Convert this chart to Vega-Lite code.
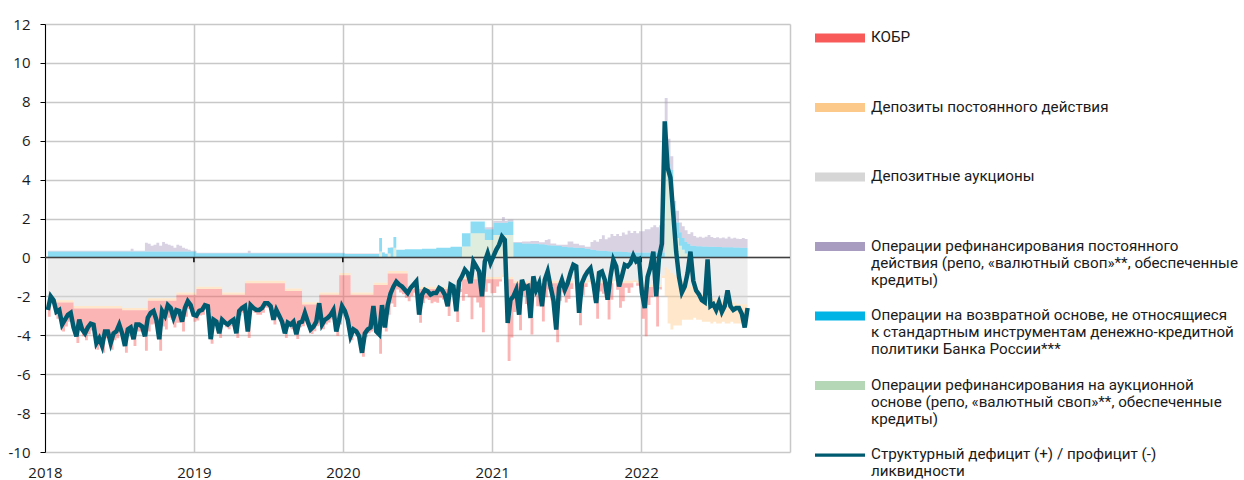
{
"$schema": "https://vega.github.io/schema/vega-lite/v6.json",
"width": 745,
"height": 428,
"autosize": {"type": "none"},
"padding": {"left": 45, "top": 24, "right": 454, "bottom": 28},
"config": {"view": {"stroke": null}, "font": "Open Sans", "axis": {"labelOverlap": false}, "axisY": {"labelOverlap": false, "tickCount": 12}},
"datasets": {
"w": [
{"d":"2018-01-08","n1":-2.2,"n2":-0.12,"n3":-0.73,"p1":0,"p2":0.3,"p3":0.05,"s":-2.7},
{"d":"2018-01-15","n1":-2.2,"n2":-0.12,"n3":-0.03,"p1":0,"p2":0.3,"p3":0.05,"s":-2.0},
{"d":"2018-01-22","n1":-2.2,"n2":-0.12,"n3":-0.23,"p1":0,"p2":0.3,"p3":0.05,"s":-2.2},
{"d":"2018-01-29","n1":-2.2,"n2":-0.12,"n3":-0.83,"p1":0,"p2":0.3,"p3":0.05,"s":-2.8},
{"d":"2018-02-05","n1":-2.2,"n2":-0.12,"n3":-0.73,"p1":0,"p2":0.3,"p3":0.05,"s":-2.7},
{"d":"2018-02-12","n1":-2.2,"n2":-0.12,"n3":-1.48,"p1":0,"p2":0.3,"p3":0.05,"s":-3.45},
{"d":"2018-02-19","n1":-2.2,"n2":-0.12,"n3":-1.23,"p1":0,"p2":0.3,"p3":0.05,"s":-3.2},
{"d":"2018-02-26","n1":-2.2,"n2":-0.12,"n3":-0.98,"p1":0,"p2":0.3,"p3":0.05,"s":-2.95},
{"d":"2018-03-05","n1":-2.2,"n2":-0.12,"n3":-0.88,"p1":0,"p2":0.3,"p3":0.05,"s":-2.85},
{"d":"2018-03-12","n1":-2.5,"n2":-0.12,"n3":-1.33,"p1":0,"p2":0.3,"p3":0.05,"s":-3.6},
{"d":"2018-03-19","n1":-2.5,"n2":-0.12,"n3":-1.78,"p1":0,"p2":0.3,"p3":0.05,"s":-4.05},
{"d":"2018-03-26","n1":-2.5,"n2":-0.12,"n3":-0.93,"p1":0,"p2":0.3,"p3":0.05,"s":-3.2},
{"d":"2018-04-02","n1":-2.5,"n2":-0.12,"n3":-1.43,"p1":0,"p2":0.3,"p3":0.05,"s":-3.7},
{"d":"2018-04-09","n1":-2.5,"n2":-0.12,"n3":-1.63,"p1":0,"p2":0.3,"p3":0.05,"s":-3.9},
{"d":"2018-04-16","n1":-2.5,"n2":-0.12,"n3":-1.33,"p1":0,"p2":0.3,"p3":0.05,"s":-3.6},
{"d":"2018-04-23","n1":-2.5,"n2":-0.12,"n3":-1.13,"p1":0,"p2":0.3,"p3":0.05,"s":-3.4},
{"d":"2018-04-30","n1":-2.5,"n2":-0.12,"n3":-1.18,"p1":0,"p2":0.3,"p3":0.05,"s":-3.45},
{"d":"2018-05-07","n1":-2.5,"n2":-0.12,"n3":-2.13,"p1":0,"p2":0.3,"p3":0.05,"s":-4.4},
{"d":"2018-05-14","n1":-2.5,"n2":-0.12,"n3":-1.88,"p1":0,"p2":0.3,"p3":0.05,"s":-4.15},
{"d":"2018-05-21","n1":-2.5,"n2":-0.12,"n3":-2.28,"p1":0,"p2":0.3,"p3":0.05,"s":-4.55},
{"d":"2018-05-28","n1":-2.5,"n2":-0.12,"n3":-1.53,"p1":0,"p2":0.3,"p3":0.05,"s":-3.8},
{"d":"2018-06-04","n1":-2.5,"n2":-0.12,"n3":-1.53,"p1":0,"p2":0.3,"p3":0.05,"s":-3.8},
{"d":"2018-06-11","n1":-2.5,"n2":-0.12,"n3":-2.13,"p1":0,"p2":0.3,"p3":0.05,"s":-4.4},
{"d":"2018-06-18","n1":-2.5,"n2":-0.12,"n3":-1.63,"p1":0,"p2":0.3,"p3":0.05,"s":-3.9},
{"d":"2018-06-25","n1":-2.5,"n2":-0.12,"n3":-1.53,"p1":0,"p2":0.3,"p3":0.05,"s":-3.8},
{"d":"2018-07-02","n1":-2.5,"n2":-0.12,"n3":-1.18,"p1":0,"p2":0.3,"p3":0.05,"s":-3.45},
{"d":"2018-07-09","n1":-2.6,"n2":-0.12,"n3":-1.53,"p1":0,"p2":0.3,"p3":0.05,"s":-3.9},
{"d":"2018-07-16","n1":-2.6,"n2":-0.12,"n3":-2.18,"p1":0,"p2":0.3,"p3":0.05,"s":-4.55},
{"d":"2018-07-23","n1":-2.6,"n2":-0.12,"n3":-1.33,"p1":0,"p2":0.3,"p3":0.05,"s":-3.7},
{"d":"2018-07-30","n1":-2.6,"n2":-0.12,"n3":-1.33,"p1":0,"p2":0.3,"p3":0.15,"s":-3.6},
{"d":"2018-08-06","n1":-2.6,"n2":-0.12,"n3":-1.83,"p1":0,"p2":0.3,"p3":0.05,"s":-4.2},
{"d":"2018-08-13","n1":-2.6,"n2":-0.12,"n3":-1.08,"p1":0,"p2":0.3,"p3":0.05,"s":-3.45},
{"d":"2018-08-20","n1":-2.6,"n2":-0.12,"n3":-1.08,"p1":0,"p2":0.3,"p3":0.05,"s":-3.45},
{"d":"2018-08-27","n1":-2.6,"n2":-0.12,"n3":-1.18,"p1":0,"p2":0.3,"p3":0.05,"s":-3.55},
{"d":"2018-09-03","n1":-2.6,"n2":-0.12,"n3":-2.08,"p1":0,"p2":0.3,"p3":0.45,"s":-4.05},
{"d":"2018-09-10","n1":-2.1,"n2":-0.12,"n3":-1.58,"p1":0,"p2":0.3,"p3":0.4,"s":-3.1},
{"d":"2018-09-17","n1":-2.1,"n2":-0.12,"n3":-1.23,"p1":0,"p2":0.3,"p3":0.3,"s":-2.85},
{"d":"2018-09-24","n1":-2.1,"n2":-0.12,"n3":-1.18,"p1":0,"p2":0.3,"p3":0.35,"s":-2.75},
{"d":"2018-10-01","n1":-2.1,"n2":-0.12,"n3":-1.73,"p1":0,"p2":0.3,"p3":0.45,"s":-3.2},
{"d":"2018-10-08","n1":-2.1,"n2":-0.12,"n3":-2.58,"p1":0,"p2":0.3,"p3":0.3,"s":-4.2},
{"d":"2018-10-15","n1":-2.1,"n2":-0.12,"n3":-1.33,"p1":0,"p2":0.3,"p3":0.5,"s":-2.75},
{"d":"2018-10-22","n1":-2.1,"n2":-0.12,"n3":-1.48,"p1":0,"p2":0.3,"p3":0.4,"s":-3.0},
{"d":"2018-10-29","n1":-2.1,"n2":-0.12,"n3":-0.88,"p1":0,"p2":0.3,"p3":0.35,"s":-2.45},
{"d":"2018-11-05","n1":-2.1,"n2":-0.12,"n3":-0.98,"p1":0,"p2":0.3,"p3":0.3,"s":-2.6},
{"d":"2018-11-12","n1":-2.1,"n2":-0.12,"n3":-1.38,"p1":0,"p2":0.3,"p3":0.2,"s":-3.1},
{"d":"2018-11-19","n1":-1.8,"n2":-0.12,"n3":-1.43,"p1":0,"p2":0.3,"p3":0.35,"s":-2.7},
{"d":"2018-11-26","n1":-1.8,"n2":-0.12,"n3":-1.43,"p1":0,"p2":0.3,"p3":0.3,"s":-2.75},
{"d":"2018-12-03","n1":-1.8,"n2":-0.12,"n3":-1.88,"p1":0,"p2":0.3,"p3":0.2,"s":-3.3},
{"d":"2018-12-10","n1":-1.8,"n2":-0.12,"n3":-1.13,"p1":0,"p2":0.3,"p3":0.15,"s":-2.6},
{"d":"2018-12-17","n1":-1.8,"n2":-0.12,"n3":-0.73,"p1":0,"p2":0.3,"p3":0.1,"s":-2.25},
{"d":"2018-12-24","n1":-1.8,"n2":-0.12,"n3":-0.88,"p1":0,"p2":0.3,"p3":0.05,"s":-2.45},
{"d":"2018-12-31","n1":-1.8,"n2":-0.12,"n3":-1.38,"p1":0,"p2":0.3,"p3":0.05,"s":-2.95},
{"d":"2019-01-07","n1":-1.5,"n2":-0.12,"n3":-1.62,"p1":0,"p2":0.22,"p3":0.02,"s":-3.0},
{"d":"2019-01-14","n1":-1.5,"n2":-0.12,"n3":-1.37,"p1":0,"p2":0.22,"p3":0.02,"s":-2.75},
{"d":"2019-01-21","n1":-1.5,"n2":-0.12,"n3":-1.32,"p1":0,"p2":0.22,"p3":0.02,"s":-2.7},
{"d":"2019-01-28","n1":-1.5,"n2":-0.12,"n3":-1.07,"p1":0,"p2":0.22,"p3":0.02,"s":-2.45},
{"d":"2019-02-04","n1":-1.5,"n2":-0.12,"n3":-1.12,"p1":0,"p2":0.22,"p3":0.02,"s":-2.5},
{"d":"2019-02-11","n1":-1.5,"n2":-0.12,"n3":-2.82,"p1":0,"p2":0.22,"p3":0.02,"s":-4.2},
{"d":"2019-02-18","n1":-1.5,"n2":-0.12,"n3":-1.82,"p1":0,"p2":0.22,"p3":0.02,"s":-3.2},
{"d":"2019-02-25","n1":-1.5,"n2":-0.12,"n3":-1.92,"p1":0,"p2":0.22,"p3":0.02,"s":-3.3},
{"d":"2019-03-04","n1":-1.5,"n2":-0.12,"n3":-2.52,"p1":0,"p2":0.22,"p3":0.02,"s":-3.9},
{"d":"2019-03-11","n1":-1.8,"n2":-0.12,"n3":-1.52,"p1":0,"p2":0.22,"p3":0.02,"s":-3.2},
{"d":"2019-03-18","n1":-1.8,"n2":-0.12,"n3":-1.67,"p1":0,"p2":0.22,"p3":0.02,"s":-3.35},
{"d":"2019-03-25","n1":-1.8,"n2":-0.12,"n3":-1.77,"p1":0,"p2":0.22,"p3":0.02,"s":-3.45},
{"d":"2019-04-01","n1":-1.8,"n2":-0.12,"n3":-1.62,"p1":0,"p2":0.22,"p3":0.02,"s":-3.3},
{"d":"2019-04-08","n1":-1.8,"n2":-0.12,"n3":-1.52,"p1":0,"p2":0.22,"p3":0.02,"s":-3.2},
{"d":"2019-04-15","n1":-1.8,"n2":-0.12,"n3":-2.22,"p1":0,"p2":0.22,"p3":0.02,"s":-3.9},
{"d":"2019-04-22","n1":-1.8,"n2":-0.12,"n3":-1.07,"p1":0,"p2":0.22,"p3":0.02,"s":-2.75},
{"d":"2019-04-29","n1":-1.8,"n2":-0.12,"n3":-0.92,"p1":0,"p2":0.22,"p3":0.02,"s":-2.6},
{"d":"2019-05-06","n1":-1.2,"n2":-0.12,"n3":-1.42,"p1":0,"p2":0.22,"p3":0.02,"s":-2.5},
{"d":"2019-05-13","n1":-1.2,"n2":-0.12,"n3":-2.82,"p1":0,"p2":0.22,"p3":0.12,"s":-3.8},
{"d":"2019-05-20","n1":-1.2,"n2":-0.12,"n3":-1.37,"p1":0,"p2":0.22,"p3":0.02,"s":-2.45},
{"d":"2019-05-27","n1":-1.2,"n2":-0.12,"n3":-1.52,"p1":0,"p2":0.22,"p3":0.02,"s":-2.6},
{"d":"2019-06-03","n1":-1.2,"n2":-0.12,"n3":-1.62,"p1":0,"p2":0.22,"p3":0.02,"s":-2.7},
{"d":"2019-06-10","n1":-1.2,"n2":-0.12,"n3":-1.62,"p1":0,"p2":0.22,"p3":0.02,"s":-2.7},
{"d":"2019-06-17","n1":-1.2,"n2":-0.12,"n3":-1.52,"p1":0,"p2":0.22,"p3":0.02,"s":-2.6},
{"d":"2019-06-24","n1":-1.2,"n2":-0.12,"n3":-1.27,"p1":0,"p2":0.22,"p3":0.02,"s":-2.35},
{"d":"2019-07-01","n1":-1.2,"n2":-0.12,"n3":-1.27,"p1":0,"p2":0.22,"p3":0.02,"s":-2.35},
{"d":"2019-07-08","n1":-1.2,"n2":-0.12,"n3":-1.42,"p1":0,"p2":0.22,"p3":0.02,"s":-2.5},
{"d":"2019-07-15","n1":-1.2,"n2":-0.12,"n3":-2.12,"p1":0,"p2":0.22,"p3":0.02,"s":-3.2},
{"d":"2019-07-22","n1":-1.2,"n2":-0.12,"n3":-1.62,"p1":0,"p2":0.22,"p3":0.02,"s":-2.7},
{"d":"2019-07-29","n1":-1.2,"n2":-0.12,"n3":-1.92,"p1":0,"p2":0.22,"p3":0.02,"s":-3.0},
{"d":"2019-08-05","n1":-1.2,"n2":-0.12,"n3":-2.22,"p1":0,"p2":0.22,"p3":0.02,"s":-3.3},
{"d":"2019-08-12","n1":-1.6,"n2":-0.12,"n3":-2.42,"p1":0,"p2":0.22,"p3":0.02,"s":-3.9},
{"d":"2019-08-19","n1":-1.6,"n2":-0.12,"n3":-1.87,"p1":0,"p2":0.22,"p3":0.02,"s":-3.35},
{"d":"2019-08-26","n1":-1.6,"n2":-0.12,"n3":-1.97,"p1":0,"p2":0.22,"p3":0.02,"s":-3.45},
{"d":"2019-09-02","n1":-1.6,"n2":-0.12,"n3":-1.82,"p1":0,"p2":0.22,"p3":0.02,"s":-3.3},
{"d":"2019-09-09","n1":-1.6,"n2":-0.12,"n3":-2.47,"p1":0,"p2":0.22,"p3":0.02,"s":-3.95},
{"d":"2019-09-16","n1":-1.6,"n2":-0.12,"n3":-1.87,"p1":0,"p2":0.22,"p3":0.02,"s":-3.35},
{"d":"2019-09-23","n1":-2.3,"n2":-0.12,"n3":-1.12,"p1":0,"p2":0.22,"p3":0.02,"s":-3.3},
{"d":"2019-09-30","n1":-2.3,"n2":-0.12,"n3":-0.67,"p1":0,"p2":0.22,"p3":0.02,"s":-2.85},
{"d":"2019-10-07","n1":-2.3,"n2":-0.12,"n3":-1.12,"p1":0,"p2":0.22,"p3":0.02,"s":-3.3},
{"d":"2019-10-14","n1":-2.3,"n2":-0.12,"n3":-1.52,"p1":0,"p2":0.22,"p3":0.02,"s":-3.7},
{"d":"2019-10-21","n1":-2.3,"n2":-0.12,"n3":-1.37,"p1":0,"p2":0.22,"p3":0.02,"s":-3.55},
{"d":"2019-10-28","n1":-2.3,"n2":-0.12,"n3":-1.12,"p1":0,"p2":0.22,"p3":0.02,"s":-3.3},
{"d":"2019-11-04","n1":-1.8,"n2":-0.12,"n3":-0.67,"p1":0,"p2":0.22,"p3":0.02,"s":-2.35},
{"d":"2019-11-11","n1":-1.8,"n2":-0.12,"n3":-1.77,"p1":0,"p2":0.22,"p3":0.02,"s":-3.45},
{"d":"2019-11-18","n1":-1.8,"n2":-0.12,"n3":-1.52,"p1":0,"p2":0.22,"p3":0.02,"s":-3.2},
{"d":"2019-11-25","n1":-1.8,"n2":-0.12,"n3":-1.42,"p1":0,"p2":0.22,"p3":0.02,"s":-3.1},
{"d":"2019-12-02","n1":-1.8,"n2":-0.12,"n3":-1.27,"p1":0,"p2":0.22,"p3":0.02,"s":-2.95},
{"d":"2019-12-09","n1":-1.8,"n2":-0.12,"n3":-1.02,"p1":0,"p2":0.22,"p3":0.02,"s":-2.7},
{"d":"2019-12-16","n1":-1.8,"n2":-0.12,"n3":-2.12,"p1":0,"p2":0.22,"p3":0.02,"s":-3.8},
{"d":"2019-12-23","n1":-0.8,"n2":-0.12,"n3":-2.52,"p1":0,"p2":0.22,"p3":0.02,"s":-3.2},
{"d":"2019-12-30","n1":-0.8,"n2":-0.12,"n3":-1.82,"p1":0,"p2":0.22,"p3":0.02,"s":-2.5},
{"d":"2020-01-06","n1":-0.8,"n2":-0.12,"n3":-2.03,"p1":0,"p2":0.18,"p3":0.02,"s":-2.75},
{"d":"2020-01-13","n1":-0.8,"n2":-0.12,"n3":-2.48,"p1":0,"p2":0.18,"p3":0.02,"s":-3.2},
{"d":"2020-01-20","n1":-1.8,"n2":-0.12,"n3":-2.33,"p1":0,"p2":0.18,"p3":0.02,"s":-4.05},
{"d":"2020-01-27","n1":-1.8,"n2":-0.12,"n3":-1.98,"p1":0,"p2":0.18,"p3":0.02,"s":-3.7},
{"d":"2020-02-03","n1":-1.8,"n2":-0.12,"n3":-2.08,"p1":0,"p2":0.18,"p3":0.02,"s":-3.8},
{"d":"2020-02-10","n1":-1.8,"n2":-0.12,"n3":-2.33,"p1":0,"p2":0.18,"p3":0.02,"s":-4.05},
{"d":"2020-02-17","n1":-1.8,"n2":-0.12,"n3":-3.18,"p1":0,"p2":0.18,"p3":0.02,"s":-4.9},
{"d":"2020-02-24","n1":-1.8,"n2":-0.12,"n3":-2.18,"p1":0,"p2":0.18,"p3":0.02,"s":-3.9},
{"d":"2020-03-02","n1":-1.8,"n2":-0.12,"n3":-1.98,"p1":0,"p2":0.18,"p3":0.02,"s":-3.7},
{"d":"2020-03-09","n1":-1.8,"n2":-0.12,"n3":-1.88,"p1":0,"p2":0.18,"p3":0.02,"s":-3.6},
{"d":"2020-03-16","n1":-1.3,"n2":-0.12,"n3":-1.28,"p1":0,"p2":0.18,"p3":0.02,"s":-2.5},
{"d":"2020-03-23","n1":-1.3,"n2":-0.12,"n3":-2.58,"p1":0,"p2":0.18,"p3":0.02,"s":-3.8},
{"d":"2020-03-30","n1":-1.3,"n2":-0.12,"n3":-3.53,"p1":0.3,"p2":0.7,"p3":0,"s":-3.95},
{"d":"2020-04-06","n1":-1.3,"n2":-0.12,"n3":-1.3,"p1":0,"p2":0.25,"p3":0.02,"s":-2.45},
{"d":"2020-04-13","n1":-1.3,"n2":-0.12,"n3":-2.38,"p1":0,"p2":0.18,"p3":0.02,"s":-3.6},
{"d":"2020-04-20","n1":-0.7,"n2":-0.12,"n3":-2.13,"p1":0.2,"p2":0.3,"p3":0,"s":-2.45},
{"d":"2020-04-27","n1":-0.7,"n2":-0.12,"n3":-1.55,"p1":0,"p2":0.5,"p3":0.02,"s":-1.85},
{"d":"2020-05-04","n1":-0.7,"n2":-0.12,"n3":-1.73,"p1":0.5,"p2":0.55,"p3":0,"s":-1.5},
{"d":"2020-05-11","n1":-0.7,"n2":-0.12,"n3":-0.83,"p1":0,"p2":0.4,"p3":0,"s":-1.25},
{"d":"2020-05-18","n1":-0.7,"n2":-0.12,"n3":-0.98,"p1":0,"p2":0.4,"p3":0,"s":-1.4},
{"d":"2020-05-25","n1":-0.7,"n2":-0.12,"n3":-1.07,"p1":0,"p2":0.4,"p3":0,"s":-1.49},
{"d":"2020-06-01","n1":-0.7,"n2":-0.12,"n3":-1.26,"p1":0,"p2":0.42,"p3":0,"s":-1.66},
{"d":"2020-06-08","n1":-1.5,"n2":-0.12,"n3":-0.63,"p1":0,"p2":0.42,"p3":0,"s":-1.83},
{"d":"2020-06-15","n1":-1.5,"n2":-0.12,"n3":-0.37,"p1":0,"p2":0.42,"p3":0,"s":-1.57},
{"d":"2020-06-22","n1":-1.5,"n2":-0.12,"n3":-0.2,"p1":0,"p2":0.42,"p3":0,"s":-1.4},
{"d":"2020-06-29","n1":-1.5,"n2":-0.12,"n3":-0.03,"p1":0,"p2":0.42,"p3":0,"s":-1.23},
{"d":"2020-07-06","n1":-1.5,"n2":-0.12,"n3":-1.74,"p1":0,"p2":0.42,"p3":0,"s":-2.94},
{"d":"2020-07-13","n1":-1.5,"n2":-0.12,"n3":-0.74,"p1":0,"p2":0.45,"p3":0,"s":-1.91},
{"d":"2020-07-20","n1":-1.5,"n2":-0.12,"n3":-0.49,"p1":0,"p2":0.45,"p3":0,"s":-1.66},
{"d":"2020-07-27","n1":-1.5,"n2":-0.12,"n3":-0.57,"p1":0,"p2":0.45,"p3":0,"s":-1.74},
{"d":"2020-08-03","n1":-1.5,"n2":-0.12,"n3":-0.74,"p1":0,"p2":0.45,"p3":0,"s":-1.91},
{"d":"2020-08-10","n1":-1.5,"n2":-0.12,"n3":-0.66,"p1":0,"p2":0.45,"p3":0,"s":-1.83},
{"d":"2020-08-17","n1":-1.5,"n2":-0.12,"n3":-0.71,"p1":0,"p2":0.5,"p3":0,"s":-1.83},
{"d":"2020-08-24","n1":-1.5,"n2":-0.12,"n3":-0.45,"p1":0,"p2":0.5,"p3":0,"s":-1.57},
{"d":"2020-08-31","n1":-1.5,"n2":-0.12,"n3":-0.54,"p1":0,"p2":0.5,"p3":0,"s":-1.66},
{"d":"2020-09-07","n1":-1.5,"n2":-0.12,"n3":-0.79,"p1":0,"p2":0.5,"p3":0,"s":-1.91},
{"d":"2020-09-14","n1":-1.5,"n2":-0.12,"n3":-1.39,"p1":0,"p2":0.5,"p3":0,"s":-2.51},
{"d":"2020-09-21","n1":-1.5,"n2":-0.12,"n3":-0.33,"p1":0,"p2":0.55,"p3":0,"s":-1.4},
{"d":"2020-09-28","n1":-1.5,"n2":-0.12,"n3":-0.42,"p1":0,"p2":0.55,"p3":0,"s":-1.49},
{"d":"2020-10-05","n1":-1.5,"n2":-0.12,"n3":-1.7,"p1":0,"p2":0.55,"p3":0,"s":-2.77},
{"d":"2020-10-12","n1":-1.5,"n2":-0.12,"n3":-0.16,"p1":0,"p2":0.55,"p3":0,"s":-1.23},
{"d":"2020-10-19","n1":-1.0,"n2":-0.12,"n3":-1.1,"p1":0.56,"p2":0.69,"p3":0,"s":-0.97},
{"d":"2020-10-26","n1":-1.0,"n2":-0.12,"n3":-0.76,"p1":0.56,"p2":0.69,"p3":0,"s":-0.63},
{"d":"2020-11-02","n1":-1.0,"n2":-0.12,"n3":-0.93,"p1":0.56,"p2":0.69,"p3":0,"s":-0.8},
{"d":"2020-11-09","n1":-1.0,"n2":-0.12,"n3":-2.05,"p1":1.25,"p2":0.6,"p3":0,"s":-1.32},
{"d":"2020-11-16","n1":-1.0,"n2":-0.12,"n3":-0.94,"p1":1.25,"p2":0.6,"p3":0,"s":-0.21},
{"d":"2020-11-23","n1":-1.0,"n2":-0.12,"n3":-1.19,"p1":1.25,"p2":0.6,"p3":0,"s":-0.46},
{"d":"2020-11-30","n1":-1.0,"n2":-0.12,"n3":-1.45,"p1":1.25,"p2":0.6,"p3":0,"s":-0.72},
{"d":"2020-12-07","n1":-1.0,"n2":-0.12,"n3":-2.73,"p1":1.25,"p2":0.6,"p3":0,"s":-2.0},
{"d":"2020-12-14","n1":-1.0,"n2":-0.12,"n3":-0.64,"p1":0.9,"p2":0.55,"p3":0.1,"s":-0.21},
{"d":"2020-12-21","n1":-1.0,"n2":-0.12,"n3":-0.21,"p1":0.9,"p2":0.55,"p3":0.1,"s":0.22},
{"d":"2020-12-28","n1":-1.0,"n2":-0.12,"n3":-0.72,"p1":0.9,"p2":0.55,"p3":0.1,"s":-0.29},
{"d":"2021-01-04","n1":-1.0,"n2":-0.12,"n3":-0.71,"p1":1.15,"p2":0.63,"p3":0.1,"s":0.05},
{"d":"2021-01-11","n1":-1.0,"n2":-0.12,"n3":-0.37,"p1":1.15,"p2":0.63,"p3":0.1,"s":0.39},
{"d":"2021-01-18","n1":-1.0,"n2":-0.12,"n3":-0.11,"p1":1.15,"p2":0.63,"p3":0.1,"s":0.65},
{"d":"2021-01-25","n1":-0.88,"n2":-0.12,"n3":0,"p1":1.15,"p2":0.63,"p3":0.3,"s":1.08},
{"d":"2021-02-01","n1":-0.86,"n2":-0.12,"n3":0,"p1":1.15,"p2":0.63,"p3":0.1,"s":0.9},
{"d":"2021-02-08","n1":-1.0,"n2":-0.12,"n3":-4.2,"p1":1.15,"p2":0.7,"p3":0.1,"s":-3.37},
{"d":"2021-02-15","n1":-1.0,"n2":-0.12,"n3":-3.0,"p1":1.15,"p2":0.7,"p3":0.1,"s":-2.17},
{"d":"2021-02-22","n1":-1.2,"n2":-0.12,"n3":-1.48,"p1":0,"p2":0.75,"p3":0.05,"s":-2.0},
{"d":"2021-03-01","n1":-1.2,"n2":-0.12,"n3":-1.14,"p1":0,"p2":0.75,"p3":0.05,"s":-1.66},
{"d":"2021-03-08","n1":-1.2,"n2":-0.12,"n3":-2.42,"p1":0,"p2":0.75,"p3":0.05,"s":-2.94},
{"d":"2021-03-15","n1":-1.2,"n2":-0.12,"n3":-0.65,"p1":0,"p2":0.72,"p3":0.1,"s":-1.15},
{"d":"2021-03-22","n1":-1.2,"n2":-0.12,"n3":-1.07,"p1":0,"p2":0.72,"p3":0.1,"s":-1.57},
{"d":"2021-03-29","n1":-1.2,"n2":-0.12,"n3":-0.99,"p1":0,"p2":0.72,"p3":0.1,"s":-1.49},
{"d":"2021-04-05","n1":-1.2,"n2":-0.12,"n3":-2.64,"p1":0,"p2":0.7,"p3":0.15,"s":-3.11},
{"d":"2021-04-12","n1":-1.2,"n2":-0.12,"n3":-0.5,"p1":0,"p2":0.7,"p3":0.15,"s":-0.97},
{"d":"2021-04-19","n1":-1.2,"n2":-0.12,"n3":-1.19,"p1":0,"p2":0.7,"p3":0.15,"s":-1.66},
{"d":"2021-04-26","n1":-1.2,"n2":-0.12,"n3":-0.78,"p1":0,"p2":0.68,"p3":0.1,"s":-1.32},
{"d":"2021-05-03","n1":-1.2,"n2":-0.12,"n3":-1.97,"p1":0,"p2":0.68,"p3":0.1,"s":-2.51},
{"d":"2021-05-10","n1":-1.2,"n2":-0.12,"n3":-0.73,"p1":0,"p2":0.65,"p3":0.25,"s":-1.15},
{"d":"2021-05-17","n1":-1.2,"n2":-0.12,"n3":-0.33,"p1":0,"p2":0.63,"p3":0.3,"s":-0.72},
{"d":"2021-05-24","n1":-1.2,"n2":-0.12,"n3":-0.89,"p1":0,"p2":0.62,"p3":0.1,"s":-1.49},
{"d":"2021-05-31","n1":-1.2,"n2":-0.12,"n3":-1.57,"p1":0,"p2":0.62,"p3":0.1,"s":-2.17},
{"d":"2021-06-07","n1":-1.2,"n2":-0.12,"n3":-3.04,"p1":0,"p2":0.6,"p3":0.05,"s":-3.71},
{"d":"2021-06-14","n1":-1.2,"n2":-0.12,"n3":-0.9,"p1":0,"p2":0.6,"p3":0.05,"s":-1.57},
{"d":"2021-06-21","n1":-1.2,"n2":-0.12,"n3":-0.48,"p1":0,"p2":0.55,"p3":0.1,"s":-1.15},
{"d":"2021-06-28","n1":-1.2,"n2":-0.12,"n3":-0.99,"p1":0,"p2":0.55,"p3":0.1,"s":-1.66},
{"d":"2021-07-05","n1":-1.2,"n2":-0.12,"n3":-0.82,"p1":0,"p2":0.52,"p3":0.3,"s":-1.32},
{"d":"2021-07-12","n1":-1.2,"n2":-0.12,"n3":-0.3,"p1":0,"p2":0.52,"p3":0.3,"s":-0.8},
{"d":"2021-07-19","n1":-0.96,"n2":-0.12,"n3":0,"p1":0,"p2":0.5,"p3":0.2,"s":-0.38},
{"d":"2021-07-26","n1":-1.04,"n2":-0.12,"n3":0,"p1":0,"p2":0.5,"p3":0.2,"s":-0.46},
{"d":"2021-08-02","n1":-1.2,"n2":-0.12,"n3":-2.16,"p1":0,"p2":0.48,"p3":0.15,"s":-2.85},
{"d":"2021-08-09","n1":-1.2,"n2":-0.12,"n3":-0.63,"p1":0,"p2":0.48,"p3":0.15,"s":-1.32},
{"d":"2021-08-16","n1":-1.2,"n2":-0.12,"n3":-0.2,"p1":0,"p2":0.45,"p3":0.1,"s":-0.97},
{"d":"2021-08-23","n1":-1.15,"n2":-0.12,"n3":0,"p1":0,"p2":0.45,"p3":0.1,"s":-0.72},
{"d":"2021-08-30","n1":-1.2,"n2":-0.12,"n3":-0.03,"p1":0,"p2":0.4,"p3":0.4,"s":-0.55},
{"d":"2021-09-06","n1":-1.2,"n2":-0.12,"n3":-0.88,"p1":0,"p2":0.38,"p3":0.5,"s":-1.32},
{"d":"2021-09-13","n1":-1.2,"n2":-0.12,"n3":-1.83,"p1":0,"p2":0.36,"p3":0.45,"s":-2.34},
{"d":"2021-09-20","n1":-1.2,"n2":-0.12,"n3":-0.43,"p1":0,"p2":0.35,"p3":0.6,"s":-0.8},
{"d":"2021-09-27","n1":-1.2,"n2":-0.12,"n3":-0.54,"p1":0,"p2":0.34,"p3":0.8,"s":-0.72},
{"d":"2021-10-04","n1":-1.2,"n2":-0.12,"n3":-0.76,"p1":0,"p2":0.33,"p3":0.6,"s":-1.15},
{"d":"2021-10-11","n1":-1.2,"n2":-0.12,"n3":-1.87,"p1":0,"p2":0.32,"p3":0.7,"s":-2.17},
{"d":"2021-10-18","n1":-1.2,"n2":-0.12,"n3":-0.86,"p1":0,"p2":0.31,"p3":0.9,"s":-0.97},
{"d":"2021-10-25","n1":-1.1,"n2":-0.12,"n3":0,"p1":0,"p2":0.3,"p3":0.8,"s":-0.12},
{"d":"2021-11-01","n1":-1.2,"n2":-0.12,"n3":-0.34,"p1":0,"p2":0.3,"p3":0.9,"s":-0.46},
{"d":"2021-11-08","n1":-1.2,"n2":-0.12,"n3":-1.27,"p1":0,"p2":0.3,"p3":0.8,"s":-1.49},
{"d":"2021-11-15","n1":-1.2,"n2":-0.12,"n3":-0.93,"p1":0,"p2":0.28,"p3":1.0,"s":-0.97},
{"d":"2021-11-22","n1":-1.2,"n2":-0.12,"n3":-0.24,"p1":0,"p2":0.28,"p3":0.9,"s":-0.38},
{"d":"2021-11-29","n1":-1.2,"n2":-0.12,"n3":-0.51,"p1":0,"p2":0.27,"p3":1.1,"s":-0.46},
{"d":"2021-12-06","n1":-1.2,"n2":-0.12,"n3":-0.23,"p1":0,"p2":0.26,"p3":1.0,"s":-0.29},
{"d":"2021-12-13","n1":-1.14,"n2":-0.12,"n3":0,"p1":0,"p2":0.26,"p3":1.1,"s":0.1},
{"d":"2021-12-20","n1":-1.2,"n2":-0.12,"n3":-0.13,"p1":0,"p2":0.25,"p3":1.0,"s":-0.2},
{"d":"2021-12-27","n1":-1.2,"n2":-0.12,"n3":-0.13,"p1":0,"p2":0.25,"p3":1.1,"s":-0.1},
{"d":"2022-01-03","n1":-1.4,"n2":-0.12,"n3":-1.63,"p1":0,"p2":0.25,"p3":1.1,"s":-1.8},
{"d":"2022-01-10","n1":-1.4,"n2":-0.12,"n3":-2.53,"p1":0,"p2":0.25,"p3":1.2,"s":-2.6},
{"d":"2022-01-17","n1":-1.4,"n2":-0.12,"n3":-0.93,"p1":0,"p2":0.25,"p3":1.2,"s":-1.0},
{"d":"2022-01-24","n1":-1.4,"n2":-0.12,"n3":-0.53,"p1":0,"p2":0.25,"p3":1.3,"s":-0.5},
{"d":"2022-01-31","n1":-1.23,"n2":-0.12,"n3":0,"p1":0,"p2":0.25,"p3":1.4,"s":0.3},
{"d":"2022-02-07","n1":-1.4,"n2":-0.12,"n3":-2.03,"p1":0,"p2":0.25,"p3":1.3,"s":-2.0},
{"d":"2022-02-14","n1":-1.4,"n2":-0.12,"n3":-0.13,"p1":0,"p2":0.25,"p3":1.4,"s":0.0},
{"d":"2022-02-21","n1":-0.93,"n2":-0.12,"n3":0,"p1":0,"p2":0.25,"p3":1.5,"s":0.7},
{"d":"2022-02-28","n1":-0.5,"n2":-1.5,"n3":0,"p1":5.2,"p2":0.4,"p3":2.6,"s":7.0},
{"d":"2022-03-07","n1":-0.6,"n2":-2.8,"n3":0,"p1":4.0,"p2":0.8,"p3":1.3,"s":4.6},
{"d":"2022-03-14","n1":-0.8,"n2":-2.9,"n3":0,"p1":3.3,"p2":1.2,"p3":0.7,"s":4.1},
{"d":"2022-03-21","n1":-0.9,"n2":-2.6,"n3":0,"p1":1.6,"p2":0.8,"p3":0.5,"s":2.2},
{"d":"2022-03-28","n1":-1.0,"n2":-2.5,"n3":0,"p1":1.0,"p2":0.8,"p3":0.6,"s":0.3},
{"d":"2022-04-04","n1":-1.1,"n2":-2.4,"n3":0,"p1":0.6,"p2":0.7,"p3":0.5,"s":-1.0},
{"d":"2022-04-11","n1":-1.2,"n2":-2.0,"n3":0,"p1":0.4,"p2":0.6,"p3":0.6,"s":-1.8},
{"d":"2022-04-18","n1":-1.3,"n2":-1.9,"n3":0,"p1":0.2,"p2":0.6,"p3":0.6,"s":-1.5},
{"d":"2022-04-25","n1":-1.4,"n2":-1.8,"n3":0,"p1":0.1,"p2":0.6,"p3":0.5,"s":-0.8},
{"d":"2022-05-02","n1":-1.5,"n2":-1.7,"n3":0,"p1":0,"p2":0.6,"p3":0.7,"s":0.3},
{"d":"2022-05-09","n1":-1.6,"n2":-1.5,"n3":0,"p1":0,"p2":0.6,"p3":0.5,"s":-1.2},
{"d":"2022-05-16","n1":-1.7,"n2":-1.5,"n3":0,"p1":0,"p2":0.58,"p3":0.45,"s":-1.7},
{"d":"2022-05-23","n1":-1.8,"n2":-1.4,"n3":0,"p1":0,"p2":0.57,"p3":0.5,"s":-1.9},
{"d":"2022-05-30","n1":-1.9,"n2":-1.4,"n3":0,"p1":0,"p2":0.56,"p3":0.45,"s":-2.2},
{"d":"2022-06-06","n1":-2.0,"n2":-1.3,"n3":0,"p1":0,"p2":0.56,"p3":0.5,"s":-2.3},
{"d":"2022-06-13","n1":-2.0,"n2":-1.3,"n3":0,"p1":0,"p2":0.55,"p3":0.6,"s":-0.1},
{"d":"2022-06-20","n1":-2.1,"n2":-1.3,"n3":0,"p1":0,"p2":0.55,"p3":0.5,"s":-2.5},
{"d":"2022-06-27","n1":-2.1,"n2":-1.2,"n3":0,"p1":0,"p2":0.55,"p3":0.45,"s":-2.4},
{"d":"2022-07-04","n1":-2.2,"n2":-1.2,"n3":0,"p1":0,"p2":0.54,"p3":0.5,"s":-2.7},
{"d":"2022-07-11","n1":-2.2,"n2":-1.2,"n3":0,"p1":0,"p2":0.54,"p3":0.45,"s":-2.3},
{"d":"2022-07-18","n1":-2.2,"n2":-1.1,"n3":0,"p1":0,"p2":0.53,"p3":0.5,"s":-2.8},
{"d":"2022-07-25","n1":-2.3,"n2":-1.1,"n3":0,"p1":0,"p2":0.53,"p3":0.45,"s":-2.5},
{"d":"2022-08-01","n1":-2.3,"n2":-1.1,"n3":0,"p1":0,"p2":0.52,"p3":0.55,"s":-1.7},
{"d":"2022-08-08","n1":-2.3,"n2":-1.0,"n3":0,"p1":0,"p2":0.52,"p3":0.45,"s":-2.5},
{"d":"2022-08-15","n1":-2.3,"n2":-1.1,"n3":0,"p1":0,"p2":0.51,"p3":0.5,"s":-2.7},
{"d":"2022-08-22","n1":-2.4,"n2":-1.0,"n3":0,"p1":0,"p2":0.51,"p3":0.45,"s":-2.6},
{"d":"2022-08-29","n1":-2.4,"n2":-1.0,"n3":0,"p1":0,"p2":0.5,"p3":0.45,"s":-2.6},
{"d":"2022-09-05","n1":-2.4,"n2":-1.0,"n3":0,"p1":0,"p2":0.5,"p3":0.5,"s":-2.9},
{"d":"2022-09-12","n1":-2.4,"n2":-1.1,"n3":0,"p1":0,"p2":0.5,"p3":0.45,"s":-3.6},
{"d":"2022-09-19","n1":-2.4,"n2":-1.0,"n3":0,"p1":0,"p2":0.5,"p3":0.45,"s":-2.6}
],
"ticks": [{"d":"2019-01-01"},{"d":"2020-01-01"},{"d":"2021-01-01"},{"d":"2022-01-01"}]
},
"layer": [
{
"data": {"name": "w"},
"transform": [{"fold": ["n1","n2","n3","p1","p2","p3"], "as": ["key","v"]}],
"mark": {"type": "area", "interpolate": "step-after", "fillOpacity": 0.45},
"encoding": {
"x": {"field": "d", "type": "temporal", "title": null,
  "scale": {"domain": [{"year":2018,"month":1,"date":1},{"year":2023,"month":1,"date":1}]},
  "axis": {"values": [{"year":2018,"month":1,"date":1},{"year":2019,"month":1,"date":1},{"year":2020,"month":1,"date":1},{"year":2021,"month":1,"date":1},{"year":2022,"month":1,"date":1},{"year":2023,"month":1,"date":1}],
    "labelExpr": "year(datum.value) == 2023 ? '' : timeFormat(datum.value, '%Y')",
    "labelFlush": false, "labelOverlap": false, "domain": false, "ticks": false, "grid": true, "gridColor": "#C8C8C8", "gridWidth": 1.5,
    "labelFont": "Open Sans", "labelFontSize": 15, "labelColor": "#1a1a1a", "labelPadding": 13}},
"y": {"field": "v", "type": "quantitative", "stack": "zero", "title": null,
  "scale": {"domain": [-10, 12], "nice": false},
  "axis": {"values": [-10,-8,-6,-4,-2,0,2,4,6,8,10,12], "tickCount": 12, "labelOverlap": false, "grid": true, "gridColor": "#C8C8C8", "gridWidth": 1.5,
    "labelExpr": "datum.value < 0 ? '-' + abs(datum.value) : '' + datum.value",
    "domain": true, "domainColor": "#000000", "domainWidth": 1, "ticks": true, "tickColor": "#000000", "tickSize": 5,
    "labelFont": "Open Sans", "labelFontSize": 15, "labelColor": "#1a1a1a", "labelPadding": 10}},
"color": {"field": "key", "type": "nominal",
  "scale": {"domain": ["n3","n2","n1","p3","p2","p1","s"], "range": ["#F85A5A","#FDC98A","#D6D6D6","#A89CC0","#00B4E6","#B6D7B6","#005A70"]},
  "legend": {"title": null, "orient": "right", "offset": 25, "labelFont": "Roboto", "labelFontSize": 15.2, "labelColor": "#1a1a1a",
    "labelLineHeight": 22.5, "labelLimit": 500, "labelBaseline": "top", "labelOffset": 6,
    "symbolType": "M-1,-0.18H1V0.18H-1Z", "symbolSize": 2500, "symbolOpacity": 1, "symbolStrokeWidth": 0,
    "gridAlign": "all", "rowPadding": 13.5,
    "labelExpr": "datum.value == 'n3' ? 'КОБР' : datum.value == 'n2' ? 'Депозиты постоянного действия' : datum.value == 'n1' ? 'Депозитные аукционы' : datum.value == 'p3' ? ['Операции рефинансирования постоянного', 'действия (репо, «валютный своп»**, обеспеченные', 'кредиты)'] : datum.value == 'p2' ? ['Операции на возвратной основе, не относящиеся', 'к стандартным инструментам денежно-кредитной', 'политики Банка России***'] : datum.value == 'p1' ? ['Операции рефинансирования на аукционной', 'основе (репо, «валютный своп»**, обеспеченные', 'кредиты)'] : ['Структурный дефицит (+) / профицит (-)', 'ликвидности']",
    "encode": {"symbols": {"update": {"y": {"value": 14}, "shape": {"signal": "datum.value == 's' ? 'M-1,-0.065H1V0.065H-1Z' : 'M-1,-0.18H1V0.18H-1Z'"}, "opacity": {"value": 1}, "fillOpacity": {"value": 1}}},
               "labels": {"update": {"y": {"value": 14}, "dy": {"value": -8}}}}}},
"order": {"field": "key", "sort": "ascending"}
}
},
{
"data": {"values": [{}]},
"mark": {"type": "rule", "color": "#404040", "strokeWidth": 1.5},
"encoding": {"y": {"datum": 0}}
},
{
"data": {"name": "ticks"},
"mark": {"type": "rule", "color": "#000000", "strokeWidth": 1.5},
"encoding": {"x": {"field": "d", "type": "temporal"}, "y": {"datum": 0}, "y2": {"datum": -0.25}}
},
{
"data": {"name": "w"},
"mark": {"type": "line", "strokeWidth": 4.5, "interpolate": "linear"},
"encoding": {
"x": {"field": "d", "type": "temporal"},
"y": {"field": "s", "type": "quantitative", "axis": {"values": [-10,-8,-6,-4,-2,0,2,4,6,8,10,12], "tickCount": 12, "labelOverlap": false}},
"color": {"datum": "s"}
}
}
]
}
